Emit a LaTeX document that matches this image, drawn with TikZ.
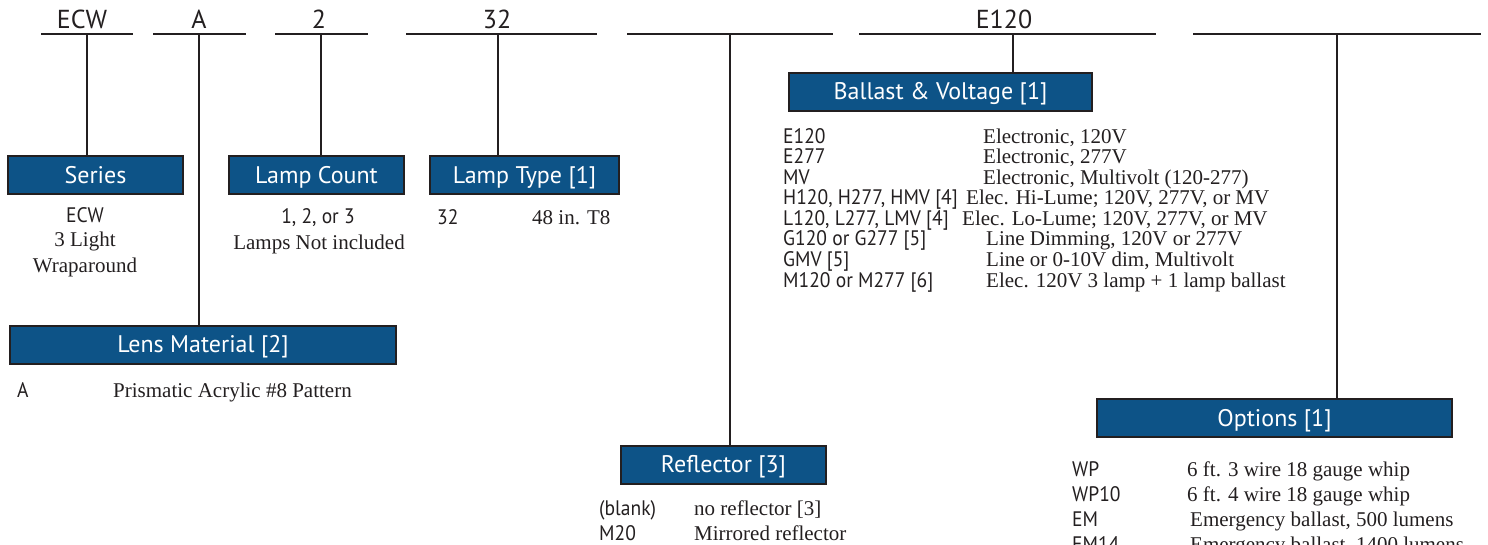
\documentclass[tikz,border=0pt]{standalone}
\usepackage{fontspec}
\setmainfont{Liberation Serif}
\newfontfamily\mysans{PT Sans}
\newfontfamily\mysansn[FakeStretch=0.93]{PT Sans}
\definecolor{boxblue}{RGB}{13,83,135}
\definecolor{ink}{RGB}{35,31,32}
\tikzset{
  bar/.style={line width=2pt, draw=ink},
  lbox/.style={draw=ink, line width=2pt, fill=boxblue, text=white,
    font=\mysans\fontsize{24}{28}\selectfont, text height=16pt, text depth=0pt,
    inner sep=0pt, minimum height=38pt},
  code/.style={anchor=base west, inner sep=0pt, font=\mysansn\fontsize{21}{24}\selectfont, text=ink},
  desc/.style={anchor=base west, inner sep=0pt, font=\fontsize{21}{24}\selectfont, text=ink},
  ccode/.style={anchor=base, inner sep=0pt, font=\mysansn\fontsize{21}{24}\selectfont, text=ink},
  cdesc/.style={anchor=base, inner sep=0pt, font=\fontsize{21}{24}\selectfont, text=ink},
  toplbl/.style={anchor=base, inner sep=0pt, font=\mysans\fontsize{26}{30}\selectfont, text=ink},
}
\begin{document}
\begin{tikzpicture}[x=1pt,y=-1pt]
\useasboundingbox (0,0) rectangle (1488,544);

% blanks (top lines)
\coordinate (b1l) at (41,34);   \coordinate (b1r) at (133,34);  \coordinate (v1) at (87,34);
\coordinate (b2l) at (153,34);  \coordinate (b2r) at (246,34);  \coordinate (v2) at (199,34);
\coordinate (b3l) at (275,34);  \coordinate (b3r) at (368,34);  \coordinate (v3) at (321,34);
\coordinate (b4l) at (406,34);  \coordinate (b4r) at (597,34);  \coordinate (v4) at (498,34);
\coordinate (b5l) at (627,34);  \coordinate (b5r) at (833,34);  \coordinate (v5) at (730,34);
\coordinate (b6l) at (859,34);  \coordinate (b6r) at (1156,34); \coordinate (v6) at (1013,34);
\coordinate (b7l) at (1193,34); \coordinate (b7r) at (1481,34); \coordinate (v7) at (1337,34);
\foreach \i in {1,...,7} { \draw[bar] (b\i l) -- (b\i r); }

% top labels
\node[toplbl] (t1) at (82,28) {ECW};
\node[toplbl] (t2) at (199,28) {A};
\node[toplbl] (t3) at (319,28) {2};
\node[toplbl] (t4) at (497,28) {32};
\node[toplbl] (t6) at (1004,28) {E120};

% boxes
\node[lbox, minimum width=175pt] (series) at (95.5,175) {Series};
\node[lbox, minimum width=175pt] (count) at (316.5,175) {Lamp Count};
\node[lbox, minimum width=189pt] (ltype) at (524.5,175) {Lamp Type [1]};
\node[lbox, minimum width=386pt] (lens) at (203,344.5) {Lens Material [2]};
\node[lbox, minimum width=303pt] (ballast) at (940.5,91.5) {Ballast \& Voltage [1]};
\node[lbox, minimum width=205pt] (refl) at (723.5,464.5) {Reflector [3]};
\node[lbox, minimum width=355pt] (opts) at (1274.5,418) {Options [1]};

% connectors
\draw[bar] (v1) -- (v1 |- series.north);
\draw[bar] (v2) -- (v2 |- lens.north);
\draw[bar] (v3) -- (v3 |- count.north);
\draw[bar] (v4) -- (v4 |- ltype.north);
\draw[bar] (v5) -- (v5 |- refl.north);
\draw[bar] (v6) -- (v6 |- ballast.north);
\draw[bar] (v7) -- (v7 |- opts.north);

% series
\node[ccode] (s1) at (85,222) {ECW};
\node[cdesc] (s2) at (85,246) {3 Light};
\node[cdesc] (s3) at (85,272) {Wraparound};
% lamp count
\node[ccode] (c1) at (318,223) {1, 2, or 3};
\node[cdesc] (c2) at (319,249) {Lamps Not included};
% lamp type
\node[code] (lt1) at (437,224) {32};
\node[desc] (lt2) at (532,224) {48 in. T8};
% lens
\node[code] (ln1) at (17,397) {A};
\node[desc] (ln2) at (113,397) {Prismatic Acrylic \#8 Pattern};

% ballast list
\node[code] (ba1) at (783,143) {E120};
\node[desc] (bd1) at (983,143) {Electronic, 120V};
\node[code] (ba2) at (783,163.6) {E277};
\node[desc] (bd2) at (983,163.6) {Electronic, 277V};
\node[code] (ba3) at (783,184.1) {MV};
\node[desc] (bd3) at (983,184.1) {Electronic, Multivolt (120-277)};
\node[code] (ba4) at (783,204.7) {H120, H277, HMV [4]};
\node[desc] (bd4) at (966,204.7) {Elec. Hi-Lume; 120V, 277V, or MV};
\node[code] (ba5) at (783,225.3) {L120, L277, LMV [4]};
\node[desc] (bd5) at (962,225.3) {Elec. Lo-Lume; 120V, 277V, or MV};
\node[code] (ba6) at (783,245.9) {G120 or G277 [5]};
\node[desc] (bd6) at (986,245.9) {Line Dimming, 120V or 277V};
\node[code] (ba7) at (783,266.4) {GMV [5]};
\node[desc] (bd7) at (986,266.4) {Line or 0-10V dim, Multivolt};
\node[code] (ba8) at (783,287) {M120 or M277 [6]};
\node[desc] (bd8) at (986,287) {Elec. 120V 3 lamp + 1 lamp ballast};

% reflector list
\node[code] (r1) at (599,515) {(blank)};
\node[desc] (rd1) at (694,515) {no reflector [3]};
\node[code] (r2) at (599,540) {M20};
\node[desc] (rd2) at (694,540) {Mirrored reflector};

% options list
\node[code] (o1) at (1072,476) {WP};
\node[desc] (od1) at (1187,476) {6 ft. 3 wire 18 gauge whip};
\node[code] (o2) at (1072,501) {WP10};
\node[desc] (od2) at (1187,501) {6 ft. 4 wire 18 gauge whip};
\node[code] (o3) at (1072,526) {EM};
\node[desc] (od3) at (1190,526) {Emergency ballast, 500 lumens};
\node[code] (o4) at (1072,551) {EM14};
\node[desc] (od4) at (1190,551) {Emergency ballast, 1400 lumens};
\end{tikzpicture}
\end{document}
